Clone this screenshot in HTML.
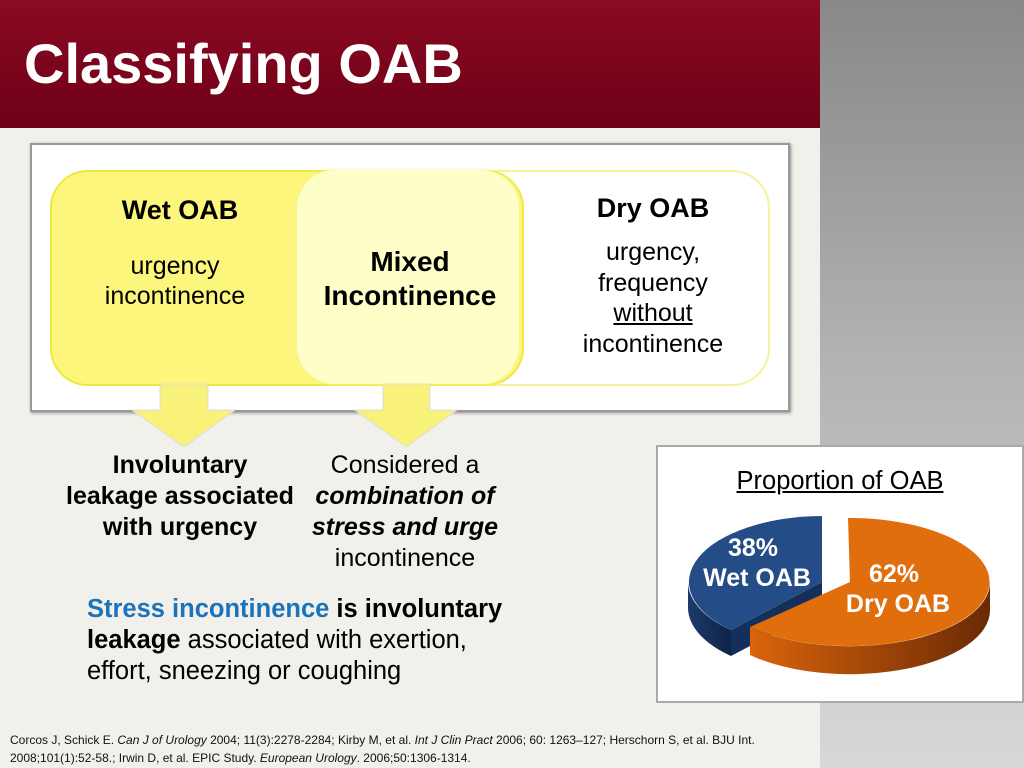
<!DOCTYPE html>
<html><head><meta charset="utf-8"><style>
*{margin:0;padding:0}
body{width:1024px;height:768px;position:relative;overflow:hidden;background:#f2f0eb;font-family:"Liberation Sans",Arial,sans-serif;color:#000}
.a{position:absolute}
.c{text-align:center}
</style></head><body>
<div class="a" style="left:820px;top:0;width:204px;height:768px;background:linear-gradient(#888 0%,#b5b5b5 50%,#d8d8d8 100%)"></div>
<div class="a" style="left:0;top:0;width:820px;height:128px;background:linear-gradient(#8a0a22,#6e0018)"></div>
<div class="a" style="left:24px;top:32px;font-size:56px;font-weight:bold;color:#fff;line-height:64px">Classifying OAB</div>

<div class="a" style="left:30px;top:143px;width:756px;height:265px;background:#fff;border:2px solid #999;box-shadow:1px 1px 3px #888"></div>
<div class="a" style="left:50px;top:170px;width:716px;height:212px;border:2px solid #f6f29a;border-radius:38px;background:#fff"></div>
<div class="a" style="left:50px;top:170px;width:470px;height:212px;border:2px solid #f0e840;border-radius:38px;background:#fcf67c"></div>
<div class="a" style="left:297px;top:170px;width:222px;height:214px;border-radius:38px;background:#fefec8;box-shadow:0 0 4px #f7f3a0"></div>

<div class="a c" style="left:70px;top:195px;width:220px;font-size:27px;font-weight:bold">Wet OAB</div>
<div class="a c" style="left:65px;top:251px;width:220px;font-size:25px;line-height:30px">urgency<br>incontinence</div>
<div class="a c" style="left:295px;top:245px;width:230px;font-size:28px;font-weight:bold;line-height:34px">Mixed<br>Incontinence</div>
<div class="a c" style="left:543px;top:193px;width:220px;font-size:27px;font-weight:bold">Dry OAB</div>
<div class="a c" style="left:543px;top:237px;width:220px;font-size:25px;line-height:30.5px">urgency,<br>frequency<br><u>without</u><br>incontinence</div>

<svg class="a" style="left:0;top:0" width="1024" height="768">
<polygon points="160,384 208,384 208,410 235,410 184,447 132,410 160,410" fill="#f8f17a" stroke="#ddd" stroke-width="1"/>
<polygon points="383,384 430,384 430,410 457,410 406,447 355,410 383,410" fill="#f8f17a" stroke="#ddd" stroke-width="1"/>
</svg>

<div class="a c" style="left:40px;top:450px;width:280px;font-size:25px;font-weight:bold;line-height:31px">Involuntary<br>leakage associated<br>with urgency</div>
<div class="a c" style="left:295px;top:450px;width:220px;font-size:25px;line-height:31px">Considered a<br><b><i>combination of<br>stress and urge</i></b><br>incontinence</div>
<div class="a" style="left:87px;top:594px;width:460px;font-size:25.5px;line-height:31px"><b style="color:#1a73bb">Stress incontinence</b> <b>is involuntary</b><br><b>leakage</b> associated with exertion,<br>effort, sneezing or coughing</div>

<div class="a" style="left:10px;top:731px;font-size:12px;line-height:18px;color:#111;width:810px">Corcos J, Schick E. <i>Can J of Urology</i> 2004; 11(3):2278-2284; Kirby M, et al. <i>Int J Clin Pract</i> 2006; 60: 1263–127; Herschorn S, et al. BJU Int. 2008;101(1):52-58.; Irwin D, et al. EPIC Study. <i>European Urology</i>. 2006;50:1306-1314.</div>

<div class="a" style="left:656px;top:445px;width:368px;height:258px;background:#fff;border:2px solid #aaa;box-sizing:border-box"></div>
<div class="a c" style="left:690px;top:467px;width:300px;font-size:25.5px;text-decoration:underline">Proportion of OAB</div>
<svg class="a" style="left:0;top:0" width="1024" height="768">
<defs>
<linearGradient id="od" x1="0" x2="1"><stop offset="0" stop-color="#d9640c"/><stop offset="1" stop-color="#6a2a05"/></linearGradient>
<linearGradient id="bd" x1="0" x2="1"><stop offset="0" stop-color="#1d3a6a"/><stop offset="1" stop-color="#0f2347"/></linearGradient>
</defs>
<path d="M688,582 A134,66 0 0 0 731,630 L731,656 A134,66 0 0 1 688,608 Z" fill="url(#bd)"/>
<path d="M822,582 L731,630 L731,656 L822,608 Z" fill="#14305a"/>
<path d="M822,582 L822,516 A134,66 0 0 0 731,630 Z" fill="#244c86"/>
<path d="M990,582 A140,64 0 0 1 750,627 L750,655 A140,64 0 0 0 990,610 Z" fill="url(#od)"/>
<path d="M850,582 L848,518 A140,64 0 1 1 750,627 Z" fill="#e06e0c"/>
<g fill="#fff" font-size="25" font-weight="bold" text-anchor="middle" font-family="Liberation Sans">
<text x="753" y="556">38%</text>
<text x="757" y="586">Wet OAB</text>
<text x="894" y="582">62%</text>
<text x="898" y="612">Dry OAB</text>
</g>
</svg>
</body></html>
